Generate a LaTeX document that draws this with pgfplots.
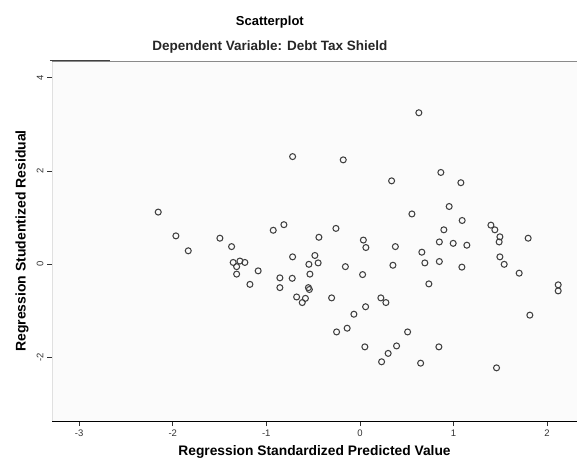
\documentclass[border=0pt]{standalone}
\usepackage{pgfplots}
\pgfplotsset{compat=1.18}
\usepackage{fontspec}
\setmainfont{Liberation Sans}
\definecolor{markgray}{HTML}{404040}
\definecolor{linegray}{HTML}{8A8A8A}
\begin{document}
\begin{tikzpicture}
\path[use as bounding box] (0,0) rectangle (577pt,464pt);
\begin{axis}[
  scale only axis, width=525pt, height=360pt,
  at={(52pt,43pt)}, anchor=south west,
  xmin=-3.29, xmax=2.32, ymin=-3.36, ymax=4.36,
  axis x line*=bottom, axis y line*=left,
  x axis line style={-, black, line width=0.8pt},
  y axis line style={-, draw=black!12, line width=0.6pt},
  xtick={-3,-2,-1,0,1,2}, ytick={-2,0,2,4},
  tick align=outside, major tick length=5pt,
  tick style={black!80, line width=0.6pt},
  /pgf/number format/assume math mode=true,
  xticklabel style={font=\fontsize{9.5}{10}\selectfont, text=black!80},
  yticklabel style={font=\fontsize{9.5}{10}\selectfont, text=black!80, rotate=90, anchor=south},
  axis background/.style={fill=black!1.5},
  xlabel={Regression Standardized Predicted Value},
  xlabel style={at={(axis description cs:0.5,-0.086)}, anchor=center, font=\fontsize{13.8}{15}\selectfont\bfseries},
  ylabel={Regression Studentized Residual},
  ylabel style={at={(axis description cs:-0.057,0.5)}, anchor=center, rotate=0, font=\fontsize{14}{15}\selectfont\bfseries},
  clip=false,
]
\draw[linegray, line width=0.9pt] (rel axis cs:0,1) -- (rel axis cs:1,1);
\draw[black!75, line width=0.8pt] ([yshift=1pt]rel axis cs:-0.004,1) -- ([yshift=1pt]rel axis cs:0.11,1);
\node[font=\fontsize{13}{15}\selectfont\bfseries] at (axis description cs:0.415,1.108) {Scatterplot};
\node[font=\fontsize{13.5}{15}\selectfont\bfseries, text=black!85] at (axis description cs:0.415,1.039) {Dependent Variable: Debt Tax Shield};
\addplot[only marks, mark=o, mark size=3pt, mark options={draw=markgray, line width=1.05pt}] table {
x y
-2.155 1.12
-1.966 0.61
-1.834 0.29
-1.496 0.56
-1.371 0.38
-0.926 0.73
-0.812 0.85
-0.719 2.31
-0.178 2.24
0.630 3.25
0.339 1.79
0.865 1.97
1.079 1.75
0.954 1.24
0.556 1.08
1.093 0.94
-0.256 0.77
-0.438 0.58
0.897 0.74
1.400 0.84
1.442 0.74
1.496 0.59
1.488 0.48
1.798 0.56
0.037 0.52
0.064 0.36
0.379 0.38
0.849 0.48
0.997 0.45
1.143 0.41
-0.481 0.19
-0.545 0.00
-0.446 0.03
-0.155 -0.05
0.353 -0.02
0.662 0.26
0.694 0.03
0.849 0.06
1.090 -0.06
1.496 0.16
1.542 0.00
1.702 -0.19
2.119 -0.44
2.119 -0.57
-0.534 -0.21
-0.550 -0.50
-0.540 -0.54
-0.676 -0.70
-0.616 -0.82
-0.582 -0.73
-0.302 -0.72
0.029 -0.22
0.737 -0.42
0.224 -0.72
0.278 -0.82
0.061 -0.91
-0.064 -1.07
1.816 -1.09
-0.249 -1.45
-0.136 -1.37
0.510 -1.45
0.053 -1.77
0.392 -1.75
0.302 -1.91
0.232 -2.09
0.844 -1.77
0.649 -2.12
1.460 -2.22
-1.354 0.04
-1.282 0.07
-1.229 0.04
-1.317 -0.05
-1.317 -0.21
-1.087 -0.14
-1.175 -0.43
-0.719 0.16
-0.855 -0.29
-0.855 -0.50
-0.723 -0.30
};
\end{axis}
\end{tikzpicture}
\end{document}
